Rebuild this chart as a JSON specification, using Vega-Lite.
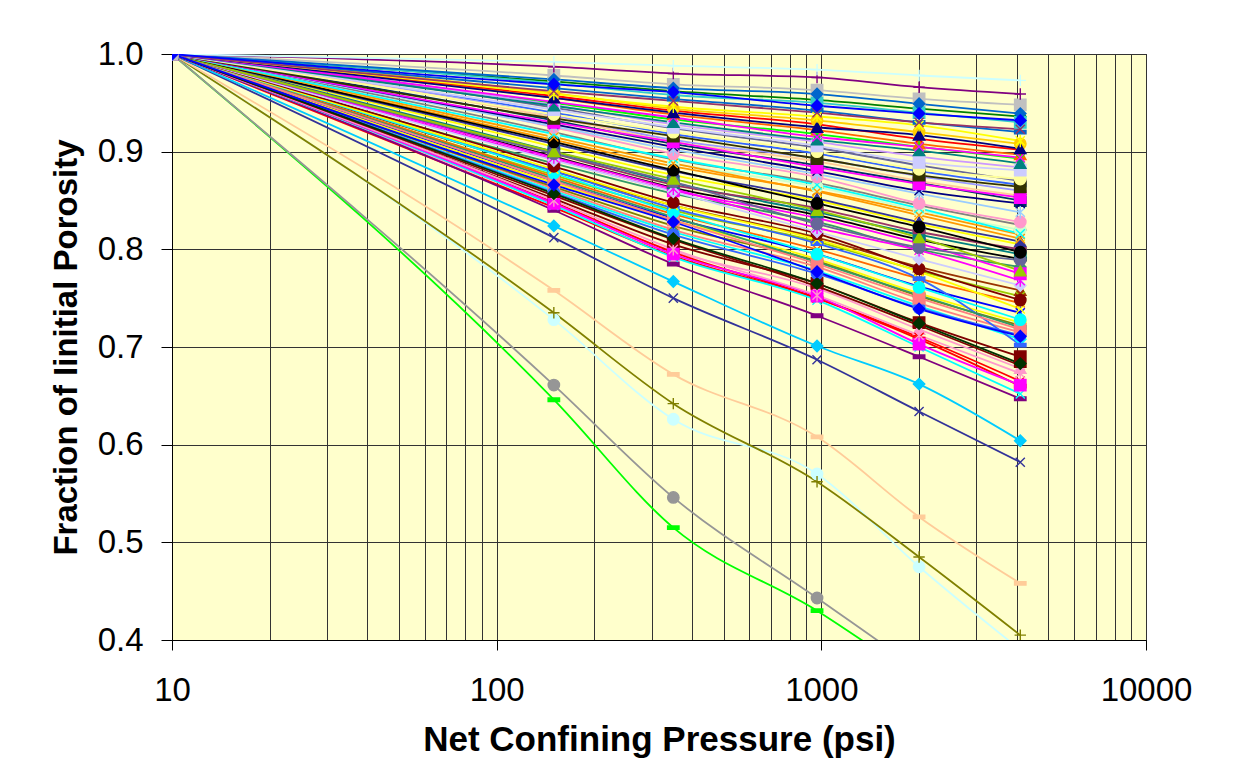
{
"$schema": "https://vega.github.io/schema/vega-lite/v6.json",
"width": 974, "height": 586,
"autosize": {"type": "none"},
"padding": {"left": 172, "top": 54, "right": 87, "bottom": 121},
"background": "white",
"config": {"view": {"fill": "#FFFFCC", "stroke": "#000000", "strokeWidth": 1}, "font": "Liberation Sans"},
"datasets": {"d": [
{"s":"S01","p":10,"f":1},{"s":"S01","p":150,"f":0.972},{"s":"S01","p":350,"f":0.962},{"s":"S01","p":970,"f":0.953},{"s":"S01","p":2000,"f":0.944},{"s":"S01","p":4100,"f":0.936},
{"s":"S02","p":10,"f":1},{"s":"S02","p":150,"f":0.970},{"s":"S02","p":350,"f":0.958},{"s":"S02","p":970,"f":0.950},{"s":"S02","p":2000,"f":0.940},{"s":"S02","p":4100,"f":0.930},
{"s":"S03","p":10,"f":1},{"s":"S03","p":150,"f":0.955},{"s":"S03","p":350,"f":0.938},{"s":"S03","p":970,"f":0.922},{"s":"S03","p":2000,"f":0.908},{"s":"S03","p":4100,"f":0.897},
{"s":"S04","p":10,"f":1},{"s":"S04","p":150,"f":0.957},{"s":"S04","p":350,"f":0.942},{"s":"S04","p":970,"f":0.928},{"s":"S04","p":2000,"f":0.913},{"s":"S04","p":4100,"f":0.902},
{"s":"S05","p":10,"f":1},{"s":"S05","p":150,"f":0.950},{"s":"S05","p":350,"f":0.933},{"s":"S05","p":970,"f":0.918},{"s":"S05","p":2000,"f":0.905},{"s":"S05","p":4100,"f":0.893},
{"s":"S06","p":10,"f":1},{"s":"S06","p":150,"f":0.960},{"s":"S06","p":350,"f":0.944},{"s":"S06","p":970,"f":0.932},{"s":"S06","p":2000,"f":0.920},{"s":"S06","p":4100,"f":0.908},
{"s":"S07","p":10,"f":1},{"s":"S07","p":150,"f":0.940},{"s":"S07","p":350,"f":0.918},{"s":"S07","p":970,"f":0.898},{"s":"S07","p":2000,"f":0.880},{"s":"S07","p":4100,"f":0.866},
{"s":"S08","p":10,"f":1},{"s":"S08","p":150,"f":0.937},{"s":"S08","p":350,"f":0.912},{"s":"S08","p":970,"f":0.893},{"s":"S08","p":2000,"f":0.875},{"s":"S08","p":4100,"f":0.860},
{"s":"S09","p":10,"f":1},{"s":"S09","p":150,"f":0.932},{"s":"S09","p":350,"f":0.908},{"s":"S09","p":970,"f":0.886},{"s":"S09","p":2000,"f":0.868},{"s":"S09","p":4100,"f":0.850},
{"s":"S10","p":10,"f":1},{"s":"S10","p":150,"f":0.920},{"s":"S10","p":350,"f":0.892},{"s":"S10","p":970,"f":0.868},{"s":"S10","p":2000,"f":0.845},{"s":"S10","p":4100,"f":0.825},
{"s":"S11","p":10,"f":1},{"s":"S11","p":150,"f":0.912},{"s":"S11","p":350,"f":0.885},{"s":"S11","p":970,"f":0.860},{"s":"S11","p":2000,"f":0.838},{"s":"S11","p":4100,"f":0.815},
{"s":"S12","p":10,"f":1},{"s":"S12","p":150,"f":0.905},{"s":"S12","p":350,"f":0.876},{"s":"S12","p":970,"f":0.850},{"s":"S12","p":2000,"f":0.826},{"s":"S12","p":4100,"f":0.805},
{"s":"S13","p":10,"f":1},{"s":"S13","p":150,"f":0.915},{"s":"S13","p":350,"f":0.888},{"s":"S13","p":970,"f":0.864},{"s":"S13","p":2000,"f":0.840},{"s":"S13","p":4100,"f":0.820},
{"s":"S14","p":10,"f":1},{"s":"S14","p":150,"f":0.895},{"s":"S14","p":350,"f":0.863},{"s":"S14","p":970,"f":0.835},{"s":"S14","p":2000,"f":0.810},{"s":"S14","p":4100,"f":0.790},
{"s":"S15","p":10,"f":1},{"s":"S15","p":150,"f":0.888},{"s":"S15","p":350,"f":0.857},{"s":"S15","p":970,"f":0.828},{"s":"S15","p":2000,"f":0.800},{"s":"S15","p":4100,"f":0.782},
{"s":"S16","p":10,"f":1},{"s":"S16","p":150,"f":0.892},{"s":"S16","p":350,"f":0.860},{"s":"S16","p":970,"f":0.832},{"s":"S16","p":2000,"f":0.806},{"s":"S16","p":4100,"f":0.775},
{"s":"S17","p":10,"f":1},{"s":"S17","p":150,"f":0.880},{"s":"S17","p":350,"f":0.845},{"s":"S17","p":970,"f":0.812},{"s":"S17","p":2000,"f":0.782},{"s":"S17","p":4100,"f":0.758},
{"s":"S18","p":10,"f":1},{"s":"S18","p":150,"f":0.876},{"s":"S18","p":350,"f":0.840},{"s":"S18","p":970,"f":0.808},{"s":"S18","p":2000,"f":0.778},{"s":"S18","p":4100,"f":0.752},
{"s":"S19","p":10,"f":1},{"s":"S19","p":150,"f":0.870},{"s":"S19","p":350,"f":0.832},{"s":"S19","p":970,"f":0.795},{"s":"S19","p":2000,"f":0.762},{"s":"S19","p":4100,"f":0.735},
{"s":"S20","p":10,"f":1},{"s":"S20","p":150,"f":0.868},{"s":"S20","p":350,"f":0.830},{"s":"S20","p":970,"f":0.790},{"s":"S20","p":2000,"f":0.755},{"s":"S20","p":4100,"f":0.725},
{"s":"S21","p":10,"f":1},{"s":"S21","p":150,"f":0.862},{"s":"S21","p":350,"f":0.820},{"s":"S21","p":970,"f":0.782},{"s":"S21","p":2000,"f":0.745},{"s":"S21","p":4100,"f":0.715},
{"s":"S22","p":10,"f":1},{"s":"S22","p":150,"f":0.860},{"s":"S22","p":350,"f":0.818},{"s":"S22","p":970,"f":0.778},{"s":"S22","p":2000,"f":0.742},{"s":"S22","p":4100,"f":0.708},
{"s":"S23","p":10,"f":1},{"s":"S23","p":150,"f":0.852},{"s":"S23","p":350,"f":0.805},{"s":"S23","p":970,"f":0.765},{"s":"S23","p":2000,"f":0.725},{"s":"S23","p":4100,"f":0.690},
{"s":"S24","p":10,"f":1},{"s":"S24","p":150,"f":0.846},{"s":"S24","p":350,"f":0.798},{"s":"S24","p":970,"f":0.760},{"s":"S24","p":2000,"f":0.718},{"s":"S24","p":4100,"f":0.678},
{"s":"S25","p":10,"f":1},{"s":"S25","p":150,"f":0.843},{"s":"S25","p":350,"f":0.793},{"s":"S25","p":970,"f":0.750},{"s":"S25","p":2000,"f":0.710},{"s":"S25","p":4100,"f":0.665},
{"s":"S26","p":10,"f":1},{"s":"S26","p":150,"f":0.948},{"s":"S26","p":350,"f":0.928},{"s":"S26","p":970,"f":0.910},{"s":"S26","p":2000,"f":0.895},{"s":"S26","p":4100,"f":0.884},
{"s":"S27","p":10,"f":1},{"s":"S27","p":150,"f":0.945},{"s":"S27","p":350,"f":0.924},{"s":"S27","p":970,"f":0.904},{"s":"S27","p":2000,"f":0.886},{"s":"S27","p":4100,"f":0.870},
{"s":"S28","p":10,"f":1},{"s":"S28","p":150,"f":0.965},{"s":"S28","p":350,"f":0.954},{"s":"S28","p":970,"f":0.942},{"s":"S28","p":2000,"f":0.930},{"s":"S28","p":4100,"f":0.920},
{"s":"S29","p":10,"f":1},{"s":"S29","p":150,"f":0.935},{"s":"S29","p":350,"f":0.910},{"s":"S29","p":970,"f":0.890},{"s":"S29","p":2000,"f":0.870},{"s":"S29","p":4100,"f":0.855},
{"s":"S30","p":10,"f":1},{"s":"S30","p":150,"f":0.900},{"s":"S30","p":350,"f":0.868},{"s":"S30","p":970,"f":0.838},{"s":"S30","p":2000,"f":0.815},{"s":"S30","p":4100,"f":0.795},
{"s":"S31","p":10,"f":1},{"s":"S31","p":150,"f":0.908},{"s":"S31","p":350,"f":0.880},{"s":"S31","p":970,"f":0.852},{"s":"S31","p":2000,"f":0.828},{"s":"S31","p":4100,"f":0.808},
{"s":"S32","p":10,"f":1},{"s":"S32","p":150,"f":0.874},{"s":"S32","p":350,"f":0.836},{"s":"S32","p":970,"f":0.800},{"s":"S32","p":2000,"f":0.770},{"s":"S32","p":4100,"f":0.745},
{"s":"S33","p":10,"f":1},{"s":"S33","p":150,"f":0.864},{"s":"S33","p":350,"f":0.824},{"s":"S33","p":970,"f":0.788},{"s":"S33","p":2000,"f":0.752},{"s":"S33","p":4100,"f":0.722},
{"s":"S34","p":10,"f":1},{"s":"S34","p":150,"f":0.858},{"s":"S34","p":350,"f":0.815},{"s":"S34","p":970,"f":0.775},{"s":"S34","p":2000,"f":0.740},{"s":"S34","p":4100,"f":0.712},
{"s":"S35","p":10,"f":1},{"s":"S35","p":150,"f":0.898},{"s":"S35","p":350,"f":0.866},{"s":"S35","p":970,"f":0.842},{"s":"S35","p":2000,"f":0.818},{"s":"S35","p":4100,"f":0.800},
{"s":"S36","p":10,"f":1},{"s":"S36","p":150,"f":0.646},{"s":"S36","p":350,"f":0.515},{"s":"S36","p":970,"f":0.430},{"s":"S36","p":2000,"f":0.36},{"s":"S36","p":4100,"f":0.29},
{"s":"S37","p":10,"f":1},{"s":"S37","p":150,"f":0.661},{"s":"S37","p":350,"f":0.546},{"s":"S37","p":970,"f":0.443},{"s":"S37","p":2000,"f":0.37},{"s":"S37","p":4100,"f":0.30},
{"s":"S38","p":10,"f":1},{"s":"S38","p":150,"f":0.728},{"s":"S38","p":350,"f":0.626},{"s":"S38","p":970,"f":0.570},{"s":"S38","p":2000,"f":0.475},{"s":"S38","p":4100,"f":0.39},
{"s":"S39","p":10,"f":1},{"s":"S39","p":150,"f":0.735},{"s":"S39","p":350,"f":0.642},{"s":"S39","p":970,"f":0.562},{"s":"S39","p":2000,"f":0.485},{"s":"S39","p":4100,"f":0.405},
{"s":"S40","p":10,"f":1},{"s":"S40","p":150,"f":0.758},{"s":"S40","p":350,"f":0.672},{"s":"S40","p":970,"f":0.608},{"s":"S40","p":2000,"f":0.526},{"s":"S40","p":4100,"f":0.458},
{"s":"S41","p":10,"f":1},{"s":"S41","p":150,"f":0.812},{"s":"S41","p":350,"f":0.750},{"s":"S41","p":970,"f":0.687},{"s":"S41","p":2000,"f":0.634},{"s":"S41","p":4100,"f":0.582},
{"s":"S42","p":10,"f":1},{"s":"S42","p":150,"f":0.824},{"s":"S42","p":350,"f":0.767},{"s":"S42","p":970,"f":0.701},{"s":"S42","p":2000,"f":0.662},{"s":"S42","p":4100,"f":0.604},
{"s":"S43","p":10,"f":1},{"s":"S43","p":150,"f":0.840},{"s":"S43","p":350,"f":0.785},{"s":"S43","p":970,"f":0.732},{"s":"S43","p":2000,"f":0.690},{"s":"S43","p":4100,"f":0.647},
{"s":"S44","p":10,"f":1},{"s":"S44","p":150,"f":0.845},{"s":"S44","p":350,"f":0.792},{"s":"S44","p":970,"f":0.748},{"s":"S44","p":2000,"f":0.700},{"s":"S44","p":4100,"f":0.652},
{"s":"S45","p":10,"f":1},{"s":"S45","p":150,"f":0.848},{"s":"S45","p":350,"f":0.797},{"s":"S45","p":970,"f":0.750},{"s":"S45","p":2000,"f":0.708},{"s":"S45","p":4100,"f":0.660},
{"s":"S46","p":10,"f":1},{"s":"S46","p":150,"f":0.847},{"s":"S46","p":350,"f":0.795},{"s":"S46","p":970,"f":0.752},{"s":"S46","p":2000,"f":0.703},{"s":"S46","p":4100,"f":0.661},
{"s":"S47","p":10,"f":1},{"s":"S47","p":150,"f":0.850},{"s":"S47","p":350,"f":0.800},{"s":"S47","p":970,"f":0.753},{"s":"S47","p":2000,"f":0.712},{"s":"S47","p":4100,"f":0.673},
{"s":"S48","p":10,"f":1},{"s":"S48","p":150,"f":0.855},{"s":"S48","p":350,"f":0.810},{"s":"S48","p":970,"f":0.762},{"s":"S48","p":2000,"f":0.722},{"s":"S48","p":4100,"f":0.681},
{"s":"S49","p":10,"f":1},{"s":"S49","p":150,"f":0.857},{"s":"S49","p":350,"f":0.811},{"s":"S49","p":970,"f":0.765},{"s":"S49","p":2000,"f":0.724},{"s":"S49","p":4100,"f":0.683},
{"s":"S50","p":10,"f":1},{"s":"S50","p":150,"f":0.880},{"s":"S50","p":350,"f":0.842},{"s":"S50","p":970,"f":0.806},{"s":"S50","p":2000,"f":0.770},{"s":"S50","p":4100,"f":0.702},
{"s":"S51","p":10,"f":1},{"s":"S51","p":150,"f":0.872},{"s":"S51","p":350,"f":0.833},{"s":"S51","p":970,"f":0.787},{"s":"S51","p":2000,"f":0.753},{"s":"S51","p":4100,"f":0.720},
{"s":"S52","p":10,"f":1},{"s":"S52","p":150,"f":0.870},{"s":"S52","p":350,"f":0.830},{"s":"S52","p":970,"f":0.785},{"s":"S52","p":2000,"f":0.750},{"s":"S52","p":4100,"f":0.718},
{"s":"S53","p":10,"f":1},{"s":"S53","p":150,"f":0.878},{"s":"S53","p":350,"f":0.838},{"s":"S53","p":970,"f":0.795},{"s":"S53","p":2000,"f":0.761},{"s":"S53","p":4100,"f":0.728},
{"s":"S54","p":10,"f":1},{"s":"S54","p":150,"f":0.882},{"s":"S54","p":350,"f":0.845},{"s":"S54","p":970,"f":0.810},{"s":"S54","p":2000,"f":0.777},{"s":"S54","p":4100,"f":0.739},
{"s":"S55","p":10,"f":1},{"s":"S55","p":150,"f":0.885},{"s":"S55","p":350,"f":0.848},{"s":"S55","p":970,"f":0.816},{"s":"S55","p":2000,"f":0.780},{"s":"S55","p":4100,"f":0.748},
{"s":"S56","p":10,"f":1},{"s":"S56","p":150,"f":0.891},{"s":"S56","p":350,"f":0.859},{"s":"S56","p":970,"f":0.818},{"s":"S56","p":2000,"f":0.790},{"s":"S56","p":4100,"f":0.763},
{"s":"S57","p":10,"f":1},{"s":"S57","p":150,"f":0.894},{"s":"S57","p":350,"f":0.862},{"s":"S57","p":970,"f":0.822},{"s":"S57","p":2000,"f":0.799},{"s":"S57","p":4100,"f":0.768},
{"s":"S58","p":10,"f":1},{"s":"S58","p":150,"f":0.898},{"s":"S58","p":350,"f":0.869},{"s":"S58","p":970,"f":0.826},{"s":"S58","p":2000,"f":0.802},{"s":"S58","p":4100,"f":0.789},
{"s":"S59","p":10,"f":1},{"s":"S59","p":150,"f":0.900},{"s":"S59","p":350,"f":0.872},{"s":"S59","p":970,"f":0.840},{"s":"S59","p":2000,"f":0.812},{"s":"S59","p":4100,"f":0.778},
{"s":"S60","p":10,"f":1},{"s":"S60","p":150,"f":0.910},{"s":"S60","p":350,"f":0.881},{"s":"S60","p":970,"f":0.847},{"s":"S60","p":2000,"f":0.823},{"s":"S60","p":4100,"f":0.797},
{"s":"S61","p":10,"f":1},{"s":"S61","p":150,"f":0.915},{"s":"S61","p":350,"f":0.888},{"s":"S61","p":970,"f":0.859},{"s":"S61","p":2000,"f":0.835},{"s":"S61","p":4100,"f":0.811},
{"s":"S62","p":10,"f":1},{"s":"S62","p":150,"f":0.918},{"s":"S62","p":350,"f":0.893},{"s":"S62","p":970,"f":0.866},{"s":"S62","p":2000,"f":0.842},{"s":"S62","p":4100,"f":0.816},
{"s":"S63","p":10,"f":1},{"s":"S63","p":150,"f":0.925},{"s":"S63","p":350,"f":0.898},{"s":"S63","p":970,"f":0.874},{"s":"S63","p":2000,"f":0.847},{"s":"S63","p":4100,"f":0.828},
{"s":"S64","p":10,"f":1},{"s":"S64","p":150,"f":0.926},{"s":"S64","p":350,"f":0.902},{"s":"S64","p":970,"f":0.877},{"s":"S64","p":2000,"f":0.857},{"s":"S64","p":4100,"f":0.838},
{"s":"S65","p":10,"f":1},{"s":"S65","p":150,"f":0.928},{"s":"S65","p":350,"f":0.905},{"s":"S65","p":970,"f":0.880},{"s":"S65","p":2000,"f":0.860},{"s":"S65","p":4100,"f":0.847},
{"s":"S66","p":10,"f":1},{"s":"S66","p":150,"f":0.930},{"s":"S66","p":350,"f":0.910},{"s":"S66","p":970,"f":0.884},{"s":"S66","p":2000,"f":0.867},{"s":"S66","p":4100,"f":0.853},
{"s":"S67","p":10,"f":1},{"s":"S67","p":150,"f":0.934},{"s":"S67","p":350,"f":0.916},{"s":"S67","p":970,"f":0.893},{"s":"S67","p":2000,"f":0.876},{"s":"S67","p":4100,"f":0.864},
{"s":"S68","p":10,"f":1},{"s":"S68","p":150,"f":0.938},{"s":"S68","p":350,"f":0.920},{"s":"S68","p":970,"f":0.900},{"s":"S68","p":2000,"f":0.882},{"s":"S68","p":4100,"f":0.872},
{"s":"S69","p":10,"f":1},{"s":"S69","p":150,"f":0.943},{"s":"S69","p":350,"f":0.925},{"s":"S69","p":970,"f":0.906},{"s":"S69","p":2000,"f":0.889},{"s":"S69","p":4100,"f":0.881},
{"s":"S70","p":10,"f":1},{"s":"S70","p":150,"f":0.947},{"s":"S70","p":350,"f":0.930},{"s":"S70","p":970,"f":0.912},{"s":"S70","p":2000,"f":0.901},{"s":"S70","p":4100,"f":0.888},
{"s":"S71","p":10,"f":1},{"s":"S71","p":150,"f":0.951},{"s":"S71","p":350,"f":0.935},{"s":"S71","p":970,"f":0.915},{"s":"S71","p":2000,"f":0.905},{"s":"S71","p":4100,"f":0.894},
{"s":"S72","p":10,"f":1},{"s":"S72","p":150,"f":0.955},{"s":"S72","p":350,"f":0.940},{"s":"S72","p":970,"f":0.925},{"s":"S72","p":2000,"f":0.917},{"s":"S72","p":4100,"f":0.903},
{"s":"S73","p":10,"f":1},{"s":"S73","p":150,"f":0.959},{"s":"S73","p":350,"f":0.946},{"s":"S73","p":970,"f":0.936},{"s":"S73","p":2000,"f":0.927},{"s":"S73","p":4100,"f":0.911},
{"s":"S74","p":10,"f":1},{"s":"S74","p":150,"f":0.962},{"s":"S74","p":350,"f":0.952},{"s":"S74","p":970,"f":0.940},{"s":"S74","p":2000,"f":0.930},{"s":"S74","p":4100,"f":0.923},
{"s":"S75","p":10,"f":1},{"s":"S75","p":150,"f":0.978},{"s":"S75","p":350,"f":0.969},{"s":"S75","p":970,"f":0.963},{"s":"S75","p":2000,"f":0.954},{"s":"S75","p":4100,"f":0.948},
{"s":"S76","p":10,"f":1},{"s":"S76","p":150,"f":0.974},{"s":"S76","p":350,"f":0.965},{"s":"S76","p":970,"f":0.959},{"s":"S76","p":2000,"f":0.949},{"s":"S76","p":4100,"f":0.939},
{"s":"S77","p":10,"f":1},{"s":"S77","p":150,"f":0.987},{"s":"S77","p":350,"f":0.980},{"s":"S77","p":970,"f":0.976},{"s":"S77","p":2000,"f":0.966},{"s":"S77","p":4100,"f":0.959},
{"s":"S78","p":10,"f":1},{"s":"S78","p":150,"f":0.992},{"s":"S78","p":350,"f":0.988},{"s":"S78","p":970,"f":0.984},{"s":"S78","p":2000,"f":0.978},{"s":"S78","p":4100,"f":0.973},
{"s":"S79","p":10,"f":1},{"s":"S79","p":150,"f":0.866},{"s":"S79","p":350,"f":0.828},{"s":"S79","p":970,"f":0.777},{"s":"S79","p":2000,"f":0.739},{"s":"S79","p":4100,"f":0.711},
{"s":"S80","p":10,"f":1},{"s":"S80","p":150,"f":0.969},{"s":"S80","p":350,"f":0.961},{"s":"S80","p":970,"f":0.947},{"s":"S80","p":2000,"f":0.939},{"s":"S80","p":4100,"f":0.932}
]},
"data": {"name": "d"},
"encoding": {
  "x": {"field": "p", "type": "quantitative",
    "scale": {"type": "log", "domain": [10, 10000], "nice": false},
    "axis": {"values": [10,20,30,40,50,60,70,80,90,100,200,300,400,500,600,700,800,900,1000,2000,3000,4000,5000,6000,7000,8000,9000,10000],
      "labelExpr": "indexof([10,100,1000,10000], datum.value) >= 0 ? '' + datum.value : ''",
      "labelOverlap": false, "labelFlush": false, "labelFontSize": 33, "labelColor": "#000000", "labelPadding": 24,
      "tickSize": 10, "tickColor": "#000000",
      "tickOpacity": {"condition": {"test": "indexof([10,100,1000,10000], datum.value) >= 0", "value": 1}, "value": 0},
      "domainColor": "#000000", "grid": true, "gridColor": "#333333", "gridWidth": 1, "gridOpacity": 1,
      "title": "Net Confining Pressure (psi)", "titleFontSize": 35, "titleFontWeight": "bold", "titleColor": "#000000", "titlePadding": 15}},
  "y": {"field": "f", "type": "quantitative",
    "scale": {"domain": [0.4, 1.0], "nice": false, "zero": false},
    "axis": {"values": [0.4,0.5,0.6,0.7,0.8,0.9,1.0], "format": ".1f",
      "labelFontSize": 33, "labelColor": "#000000", "labelPadding": 18,
      "tickSize": 11, "tickColor": "#000000", "domainColor": "#000000",
      "grid": true, "gridColor": "#333333", "gridWidth": 1, "gridOpacity": 1,
      "title": "Fraction of Iinitial Porosity", "titleFontSize": 33, "titleFontWeight": "bold", "titleColor": "#000000", "titlePadding": 14}},
  "stroke": {"field": "s", "type": "nominal", "legend": null,
    "scale": {"range": ["#008000","#33CCCC","#FF6600","#FF0000","#00FF00","#FFCC00","#3366FF","#9999FF","#003366","#808080","#FF9900","#FFFF00","#CCFFCC","#000000","#339966","#FF00FF","#993300","#99CC00","#0000FF","#FFFF00","#FF8080","#00FFFF","#800000","#FF99CC","#FF0000","#CC99FF","#666699","#0066CC","#FFCC99","#008080","#333399","#FF6600","#808000","#3366FF","#993366","#00FF00","#969696","#CCFFFF","#808000","#FFCC99","#333399","#00CCFF","#800080","#00FFFF","#FF0000","#FF00FF","#FF99CC","#800000","#003300","#3366FF","#339966","#FF8080","#00FFFF","#FFFF00","#800000","#CCCCFF","#FF00FF","#666699","#99CC00","#000000","#FF9900","#00FFFF","#FF99CC","#99CCFF","#000080","#FF00FF","#333300","#FFFF99","#CCCCFF","#008080","#FF00FF","#000080","#FFFF00","#993366","#C0C0C0","#0066CC","#800080","#CCFFFF","#0000FF","#0000FF"]}}
},
"layer": [
  {"mark": {"type": "line", "interpolate": "monotone", "strokeWidth": 1.8, "clip": true}},
  {"mark": {"type": "point", "filled": true, "size": 130, "strokeWidth": 1.4, "opacity": 1, "clip": true},
   "encoding": {
     "fill": {"field": "s", "type": "nominal", "legend": null,
       "scale": {"range": ["#008000","#33CCCC","#FF6600","#FF0000","#00FF00","#FFCC00","#3366FF","#9999FF","#003366","#808080","#FF9900","#FFFF00","#CCFFCC","#000000","#339966","#FF00FF","#993300","#99CC00","#0000FF","#FFFF00","#FF8080","#00FFFF","#800000","#FF99CC","#FF0000","#CC99FF","#666699","#0066CC","#FFCC99","#008080","#333399","#FF6600","#808000","#3366FF","#993366","#00FF00","#969696","#CCFFFF","#808000","#FFCC99","#333399","#00CCFF","#800080","#00FFFF","#FF0000","#FF00FF","#FF99CC","#800000","#003300","#3366FF","#339966","#FF8080","#00FFFF","#FFFF00","#800000","#CCCCFF","#FF00FF","#666699","#99CC00","#000000","#FF9900","#00FFFF","#FF99CC","#99CCFF","#000080","#FF00FF","#333300","#FFFF99","#CCCCFF","#008080","#FF00FF","#000080","#FFFF00","#993366","#C0C0C0","#0066CC","#800080","#CCFFFF","#0000FF","#0000FF"]}},
     "shape": {"field": "s", "type": "nominal", "legend": null,
       "scale": {"range": [
"diamond","square","triangle-up","M-0.8,-0.8L0.8,0.8M-0.8,0.8L0.8,-0.8","M-0.8,-0.8L0.8,0.8M-0.8,0.8L0.8,-0.8M0,-1.1L0,1.1","circle","M-1,-0.3L1,-0.3L1,0.3L-1,0.3Z","diamond","square","triangle-up",
"M-0.8,-0.8L0.8,0.8M-0.8,0.8L0.8,-0.8","M-0.8,-0.8L0.8,0.8M-0.8,0.8L0.8,-0.8M0,-1.1L0,1.1","circle","M-1,-0.3L1,-0.3L1,0.3L-1,0.3Z","diamond","square","triangle-up","M-0.8,-0.8L0.8,0.8M-0.8,0.8L0.8,-0.8","M-0.8,-0.8L0.8,0.8M-0.8,0.8L0.8,-0.8M0,-1.1L0,1.1","circle",
"M-1,-0.3L1,-0.3L1,0.3L-1,0.3Z","diamond","square","triangle-up","M-0.8,-0.8L0.8,0.8M-0.8,0.8L0.8,-0.8","M-0.8,-0.8L0.8,0.8M-0.8,0.8L0.8,-0.8M0,-1.1L0,1.1","circle","M-1,-0.3L1,-0.3L1,0.3L-1,0.3Z","diamond","square",
"triangle-up","M-0.8,-0.8L0.8,0.8M-0.8,0.8L0.8,-0.8","M-0.8,-0.8L0.8,0.8M-0.8,0.8L0.8,-0.8M0,-1.1L0,1.1","circle","M-1,-0.3L1,-0.3L1,0.3L-1,0.3Z",
"M-1,-0.3L1,-0.3L1,0.3L-1,0.3Z","circle","circle","M-1,0L1,0M0,-1L0,1","M-1,-0.3L1,-0.3L1,0.3L-1,0.3Z","M-0.8,-0.8L0.8,0.8M-0.8,0.8L0.8,-0.8","diamond","M-1,-0.3L1,-0.3L1,0.3L-1,0.3Z","M-0.8,-0.8L0.8,0.8M-0.8,0.8L0.8,-0.8","M-1,-0.3L1,-0.3L1,0.3L-1,0.3Z",
"square","M-0.8,-0.8L0.8,0.8M-0.8,0.8L0.8,-0.8M0,-1.1L0,1.1","M-1,-0.3L1,-0.3L1,0.3L-1,0.3Z","diamond","M-1,-0.3L1,-0.3L1,0.3L-1,0.3Z","M-1,-0.3L1,-0.3L1,0.3L-1,0.3Z","square","circle","M-0.8,-0.8L0.8,0.8M-0.8,0.8L0.8,-0.8","circle",
"diamond","M-0.8,-0.8L0.8,0.8M-0.8,0.8L0.8,-0.8M0,-1.1L0,1.1","circle","triangle-up","circle","M-0.8,-0.8L0.8,0.8M-0.8,0.8L0.8,-0.8","M-0.8,-0.8L0.8,0.8M-0.8,0.8L0.8,-0.8","circle","M-0.8,-0.8L0.8,0.8M-0.8,0.8L0.8,-0.8M0,-1.1L0,1.1","M-0.8,-0.8L0.8,0.8M-0.8,0.8L0.8,-0.8",
"square","square","circle","square","triangle-up","M-0.8,-0.8L0.8,0.8M-0.8,0.8L0.8,-0.8","triangle-up","M-0.8,-0.8L0.8,0.8M-0.8,0.8L0.8,-0.8M0,-1.1L0,1.1","M-0.8,-0.8L0.8,0.8M-0.8,0.8L0.8,-0.8","square",
"diamond","M-1,0L1,0M0,-1L0,1","M-1,0L1,0M0,-1L0,1","diamond","diamond"]}}
   }}
]
}
